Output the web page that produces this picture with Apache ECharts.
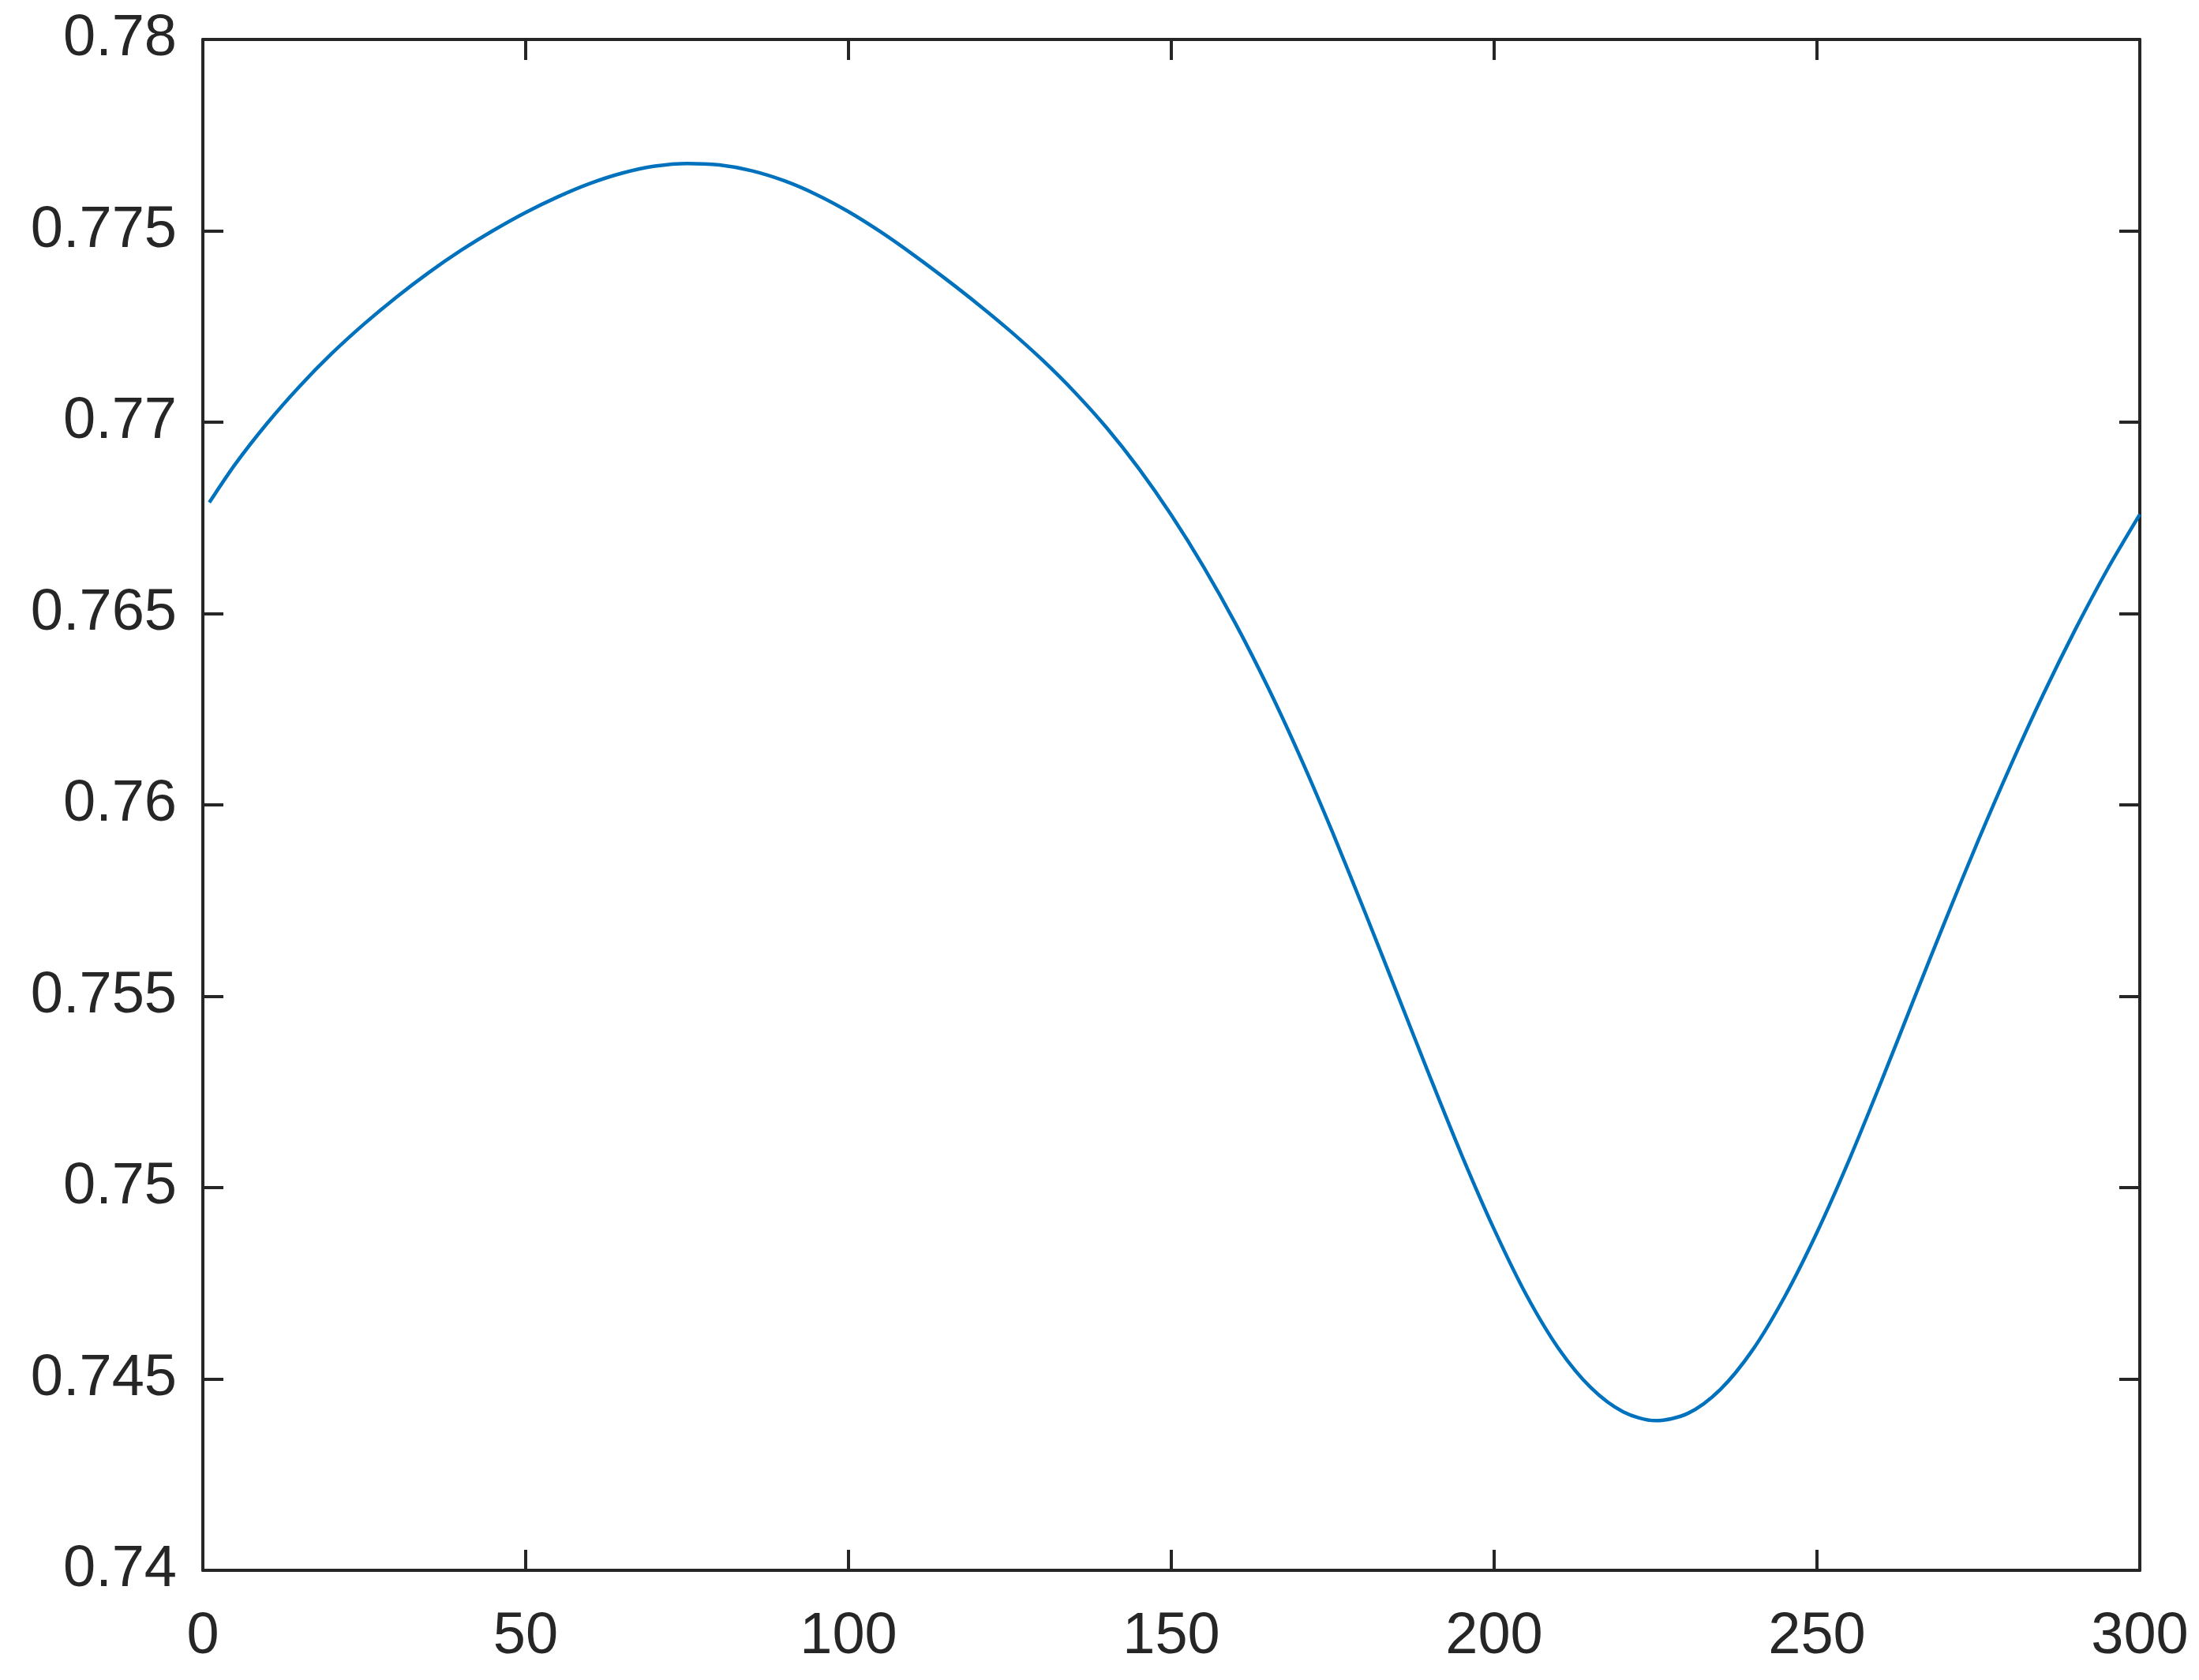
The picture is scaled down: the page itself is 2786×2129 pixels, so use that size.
<!DOCTYPE html>
<html>
<head>
<meta charset="utf-8">
<script src="https://cdn.jsdelivr.net/npm/echarts@6/dist/echarts.min.js"></script>
<style>
html,body{margin:0;padding:0;background:#fff;}
#chart{width:2786px;height:2129px;}
</style>
</head>
<body>
<div id="chart"></div>
<script>
const xValues = [1,5,10,15,20,25,30,35,40,45,50,55,60,65,70,75,80,85,90,95,100,105,110,115,120,125,130,135,140,145,150,155,160,165,170,175,180,185,190,195,200,205,210,215,220,225,230,235,240,245,250,255,260,265,270,275,280,285,290,295,300];
const yValues = [0.76790,0.76890,0.76998,0.77094,0.77180,0.77257,0.77327,0.77391,0.77449,0.77501,0.77548,0.77589,0.77624,0.77651,0.77669,0.77676,0.77672,0.77657,0.77631,0.77595,0.77550,0.77497,0.77438,0.77375,0.77309,0.77239,0.77163,0.77079,0.76985,0.76878,0.76757,0.76622,0.76472,0.76306,0.76124,0.75927,0.75719,0.75506,0.75292,0.75084,0.74891,0.74719,0.74579,0.74477,0.74414,0.74391,0.74410,0.74472,0.74575,0.74715,0.74883,0.75073,0.75279,0.75492,0.75703,0.75908,0.76103,0.76287,0.76458,0.76616,0.76759];
const xTicks = [0,50,100,150,200,250,300];
const yTicks = [0.74,0.745,0.75,0.755,0.76,0.765,0.77,0.775,0.78];

const axisColor = '#262626';
const fontFamily = '"Liberation Sans", Arial, Helvetica, sans-serif';
const fontSize = 74;

const seriesData = xValues.map((x, i) => [x, yValues[i]]);

const chart = echarts.init(document.getElementById('chart'), null, {renderer: 'canvas'});

function xAxisCfg(pos, showLabel) {
  return {
    type: 'value', position: pos,
    min: xTicks[0], max: xTicks[xTicks.length - 1], interval: xTicks[1] - xTicks[0],
    axisLine: {show: true, onZero: false, lineStyle: {color: axisColor, width: 4}},
    axisTick: {show: true, inside: true, length: 26, lineStyle: {color: axisColor, width: 4}},
    axisLabel: {show: showLabel, color: axisColor, fontSize: fontSize, fontFamily: fontFamily, margin: 48},
    splitLine: {show: false}
  };
}
function yAxisCfg(pos, showLabel) {
  return {
    type: 'value', position: pos,
    min: yTicks[0], max: yTicks[yTicks.length - 1], interval: 0.005,
    axisLine: {show: true, onZero: false, lineStyle: {color: axisColor, width: 4}},
    axisTick: {show: true, inside: true, length: 26, lineStyle: {color: axisColor, width: 4}},
    axisLabel: {show: showLabel, color: axisColor, fontSize: fontSize, fontFamily: fontFamily, margin: 33,
      formatter: v => String(+v.toFixed(3))},
    splitLine: {show: false}
  };
}

chart.setOption({
  animation: false,
  backgroundColor: '#ffffff',
  grid: {left: 257, right: 75, top: 50, bottom: 139, containLabel: false},
  xAxis: [xAxisCfg('bottom', true), xAxisCfg('top', false)],
  yAxis: [yAxisCfg('left', true), yAxisCfg('right', false)],
  series: [{
    type: 'line',
    xAxisIndex: 0, yAxisIndex: 0,
    data: seriesData,
    showSymbol: false,
    smooth: 0.3,
    lineStyle: {color: '#0072BD', width: 4.5},
    itemStyle: {color: '#0072BD'}
  }]
});
</script>
</body>
</html>
